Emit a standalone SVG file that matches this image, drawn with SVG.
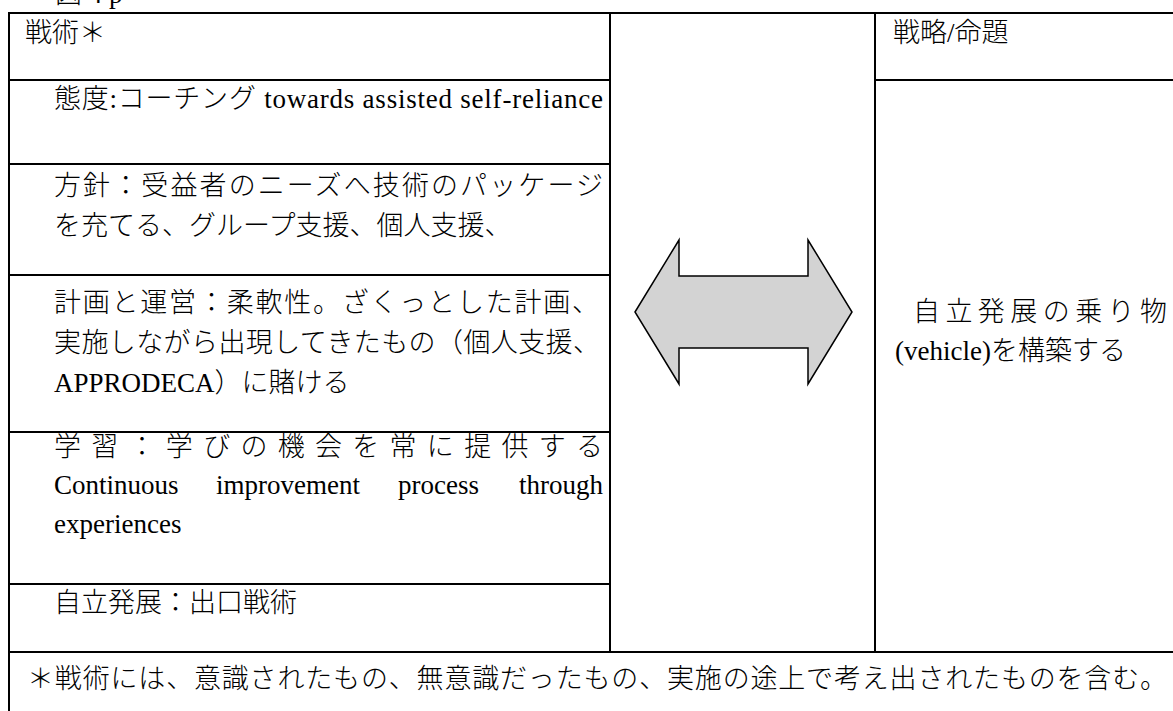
<svg xmlns="http://www.w3.org/2000/svg" width="1173" height="711" viewBox="0 0 1173 711">
<style>
.t{font-family:"Liberation Serif","Noto Sans CJK JP",serif;font-size:27px;font-weight:300;fill:#000}
.ln{stroke:#000;stroke-width:2;fill:none}
.arr{fill:#d3d3d3;stroke:#000;stroke-width:1.5;stroke-linejoin:miter}
</style>
<rect x="0" y="0" width="1173" height="711" fill="#fff"/>
<text class="t" x="55" y="3">図 4 p</text>
<g id="table-lines">
<path class="ln" d="M8 13H1173M9 12V711M610 13V652M875 13V652M9 652H1173M875 80H1173M9 80H610M9 164H610M9 275H610M9 432H610M9 584H610"/>
</g>
<g id="header-tactics"><text class="t" x="25" y="42">戦術＊</text></g>
<g id="header-strategy"><text class="t" x="893" y="42">戦略/命題</text></g>
<g id="cell-attitude"><text class="t" x="54" y="108" textLength="549" lengthAdjust="spacing">態度:コーチング towards assisted self-reliance</text></g>
<g id="cell-policy">
<text class="t" x="54" y="195" textLength="549" lengthAdjust="spacing">方針：受益者のニーズへ技術のパッケージ</text>
<text class="t" x="54" y="235">を充てる、グループ支援、個人支援、</text>
</g>
<g id="cell-planning">
<text class="t" x="54" y="312" textLength="545" lengthAdjust="spacing">計画と運営：柔軟性。ざくっとした計画、</text>
<text class="t" x="54" y="352" textLength="546" lengthAdjust="spacing">実施しながら出現してきたもの（個人支援、</text>
<text class="t" x="54" y="392">APPRODECA）に賭ける</text>
</g>
<g id="cell-learning">
<text class="t" x="54" y="456" textLength="549" lengthAdjust="spacing">学習：学びの機会を常に提供する</text>
<text class="t" y="494"><tspan x="54">Continuous</tspan><tspan x="216">improvement</tspan><tspan x="398">process</tspan><tspan x="519">through</tspan></text>
<text class="t" x="54" y="533">experiences</text>
</g>
<g id="cell-self-reliance"><text class="t" x="54" y="612">自立発展：出口戦術</text></g>
<g id="cell-vehicle">
<text class="t" x="913" y="321" textLength="254" lengthAdjust="spacing">自立発展の乗り物</text>
<text class="t" x="895" y="360">(vehicle)を構築する</text>
</g>
<g id="connectors">
<polygon class="arr" points="635,312 679,240 679,276 808,276 808,240 852,312 808,384 808,348 679,348 679,384"/>
</g>
<g id="footnote"><text class="t" x="27" y="688" textLength="1140" lengthAdjust="spacing">＊戦術には、意識されたもの、無意識だったもの、実施の途上で考え出されたものを含む。</text></g>
</svg>
